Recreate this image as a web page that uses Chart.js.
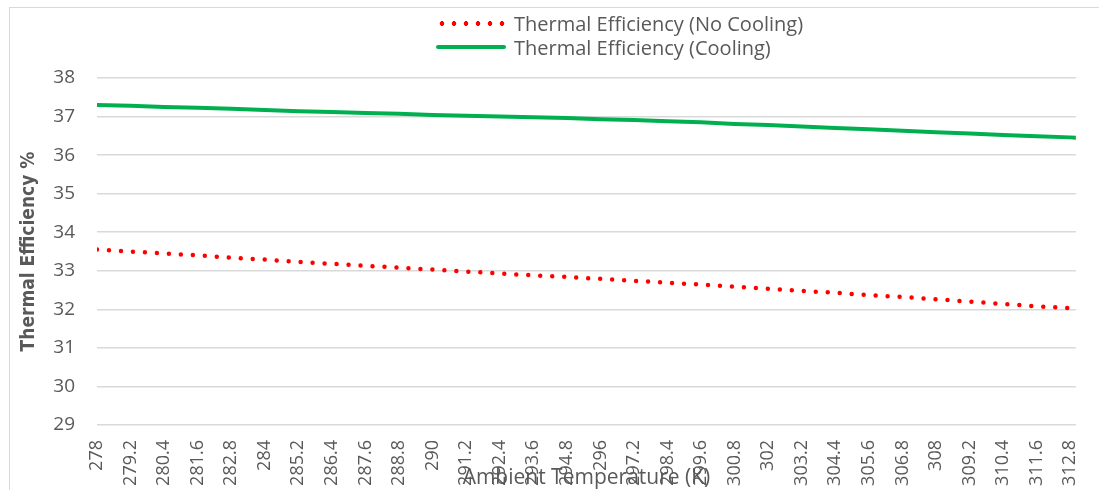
<!DOCTYPE html>
<html>
<head>
<meta charset="utf-8">
<script src="https://cdn.jsdelivr.net/npm/chart.js@4.4.1/dist/chart.umd.min.js"></script>
<style>
    html, body { margin: 0; padding: 0; background: #fff; }
    #wrap { position: relative; width: 1099px; height: 490px; overflow: hidden; }
    #frame { position: absolute; left: 9px; top: 7px; width: 1200px; height: 600px;
             border-top: 1.5px solid #d9d9d9; border-left: 1.5px solid #d9d9d9; }
    canvas { position: absolute; left: 0; top: 0; }
    .legend-item { position: absolute; left: 436px; height: 24px; display: flex; align-items: center;
                   font-family: 'Open Sans', sans-serif; font-size: 20px; color: #595959; white-space: nowrap; }
    .swatch { width: 70px; margin-right: 8px; }
    .swatch.dotted { height: 5px;
        background-image: radial-gradient(circle, #ff0000 2.1px, transparent 2.6px);
        background-size: 12px 5px; background-repeat: repeat-x; }
    .swatch.solid { height: 4px; background: #00b050; border-radius: 2px; }
</style>
</head>
<body>
<div id="wrap">
    <div id="frame"></div>
    <canvas id="chart" width="1099" height="490"></canvas>
    <div class="legend-item" style="top: 11px;"><div class="swatch dotted"></div><span id="leg0"></span></div>
    <div class="legend-item" style="top: 35px;"><div class="swatch solid"></div><span id="leg1"></span></div>
</div>
<script>
// Data
const temperatures = [278, 279.2, 280.4, 281.6, 282.8, 284, 285.2, 286.4, 287.6, 288.8,
                      290, 291.2, 292.4, 293.6, 294.8, 296, 297.2, 298.4, 299.6, 300.8,
                      302, 303.2, 304.4, 305.6, 306.8, 308, 309.2, 310.4, 311.6, 312.8, 313];
const noCooling = [33.55, 33.50, 33.45, 33.40, 33.34, 33.29, 33.23, 33.18, 33.13, 33.08,
                   33.03, 32.98, 32.93, 32.88, 32.84, 32.79, 32.74, 32.69, 32.64, 32.59,
                   32.53, 32.48, 32.43, 32.37, 32.32, 32.26, 32.20, 32.14, 32.08, 32.03, 32.01];
const cooling = [37.30, 37.28, 37.25, 37.23, 37.20, 37.17, 37.14, 37.12, 37.09, 37.07,
                 37.04, 37.02, 37.00, 36.98, 36.96, 36.93, 36.91, 36.88, 36.85, 36.81,
                 36.78, 36.74, 36.70, 36.67, 36.63, 36.59, 36.56, 36.52, 36.49, 36.46, 36.45];
const xTicks = [278, 279.2, 280.4, 281.6, 282.8, 284, 285.2, 286.4, 287.6, 288.8,
                290, 291.2, 292.4, 293.6, 294.8, 296, 297.2, 298.4, 299.6, 300.8,
                302, 303.2, 304.4, 305.6, 306.8, 308, 309.2, 310.4, 311.6, 312.8];
const seriesNames = ['Thermal Efficiency (No Cooling)', 'Thermal Efficiency (Cooling)'];
const xTitle = 'Ambient Temperature (K)';
const yTitle = 'Thermal Efficiency %';

const TEXT_COLOR = '#595959';
const GRID_COLOR = '#d9d9d9';

document.getElementById('leg0').textContent = seriesNames[0];
document.getElementById('leg1').textContent = seriesNames[1];

// x title sits on top of the tick labels, like in the original
const xTitlePlugin = {
    id: 'xTitle',
    afterDraw(chart) {
        const ctx = chart.ctx;
        const area = chart.chartArea;
        ctx.save();
        ctx.font = '21px "Open Sans", sans-serif';
        ctx.fillStyle = TEXT_COLOR;
        ctx.textAlign = 'center';
        ctx.textBaseline = 'middle';
        ctx.fillText(xTitle, (area.left + area.right) / 2, area.bottom + 53);
        ctx.restore();
    }
};

const toPoints = values => values.map((v, i) => ({ x: temperatures[i], y: v }));

new Chart(document.getElementById('chart'), {
    type: 'line',
    data: {
        datasets: [
            {
                label: seriesNames[0],
                data: toPoints(noCooling),
                borderColor: '#ff0000',
                borderWidth: 4.5,
                borderDash: [0, 12],
                borderCapStyle: 'round',
                pointRadius: 0,
                tension: 0
            },
            {
                label: seriesNames[1],
                data: toPoints(cooling),
                borderColor: '#00b050',
                borderWidth: 4,
                borderCapStyle: 'round',
                pointRadius: 0,
                tension: 0
            }
        ]
    },
    options: {
        responsive: false,
        animation: false,
        layout: { padding: { left: 0, right: 22, top: 78, bottom: 0 } },
        plugins: {
            legend: { display: false },
            tooltip: { enabled: false }
        },
        scales: {
            x: {
                type: 'linear',
                min: 278,
                max: 313,
                afterBuildTicks: axis => { axis.ticks = xTicks.map(v => ({ value: v })); },
                afterFit: scale => { scale.height = 65; },
                grid: { display: false },
                border: { display: false },
                ticks: {
                    autoSkip: false,
                    minRotation: 90,
                    maxRotation: 90,
                    padding: 7,
                    color: TEXT_COLOR,
                    font: { family: 'Open Sans', size: 18 },
                    callback: v => String(v)
                }
            },
            y: {
                min: 29,
                max: 38,
                afterFit: scale => { scale.width = 97; },
                grid: { color: GRID_COLOR, lineWidth: 1.5, drawTicks: false },
                border: { display: false },
                ticks: {
                    stepSize: 1,
                    padding: 22,
                    color: TEXT_COLOR,
                    font: { family: 'Open Sans', size: 19 }
                },
                title: {
                    display: true,
                    text: yTitle,
                    color: TEXT_COLOR,
                    font: { family: "'DejaVu Sans Condensed', Roboto, sans-serif", size: 19, weight: 'bold' },
                    padding: { top: 18, bottom: 0 }
                }
            }
        }
    },
    plugins: [xTitlePlugin]
});
</script>
</body>
</html>
